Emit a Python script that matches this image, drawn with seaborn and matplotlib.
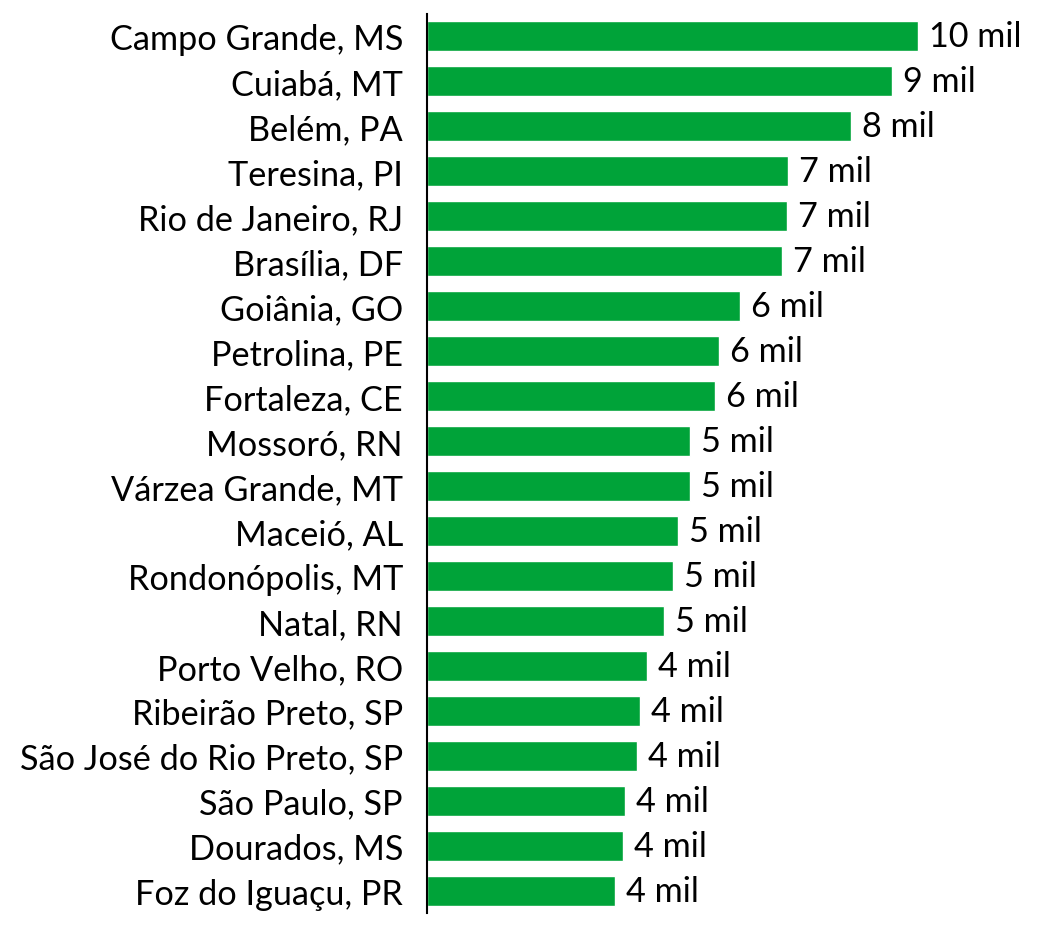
import matplotlib
matplotlib.use("Agg")
import matplotlib.pyplot as plt
import seaborn as sns
import pandas as pd

cities = ["Campo Grande, MS", "Cuiabá, MT", "Belém, PA", "Teresina, PI",
          "Rio de Janeiro, RJ", "Brasília, DF", "Goiânia, GO", "Petrolina, PE",
          "Fortaleza, CE", "Mossoró, RN", "Várzea Grande, MT", "Maceió, AL",
          "Rondonópolis, MT", "Natal, RN", "Porto Velho, RO", "Ribeirão Preto, SP",
          "São José do Rio Preto, SP", "São Paulo, SP", "Dourados, MS",
          "Foz do Iguaçu, PR"]
values = [9.63, 9.12, 8.31, 7.08, 7.06, 6.96, 6.14, 5.73, 5.65, 5.16,
          5.16, 4.92, 4.82, 4.65, 4.31, 4.18, 4.12, 3.88, 3.84, 3.69]
labels = [f"{round(v)} mil" for v in values]

df = pd.DataFrame({"city": cities, "value": values})

sns.set_theme(style="white")
plt.rcParams['font.family'] = ['Lato', 'DejaVu Sans']

W, H = 1047, 937
fig = plt.figure(figsize=(W / 100, H / 100), dpi=100)
left_px, right_px, top_px, bottom_px = 427, 1040, 15, 914
ax = fig.add_axes([left_px / W, (H - bottom_px) / H,
                   (right_px - left_px) / W, (bottom_px - top_px) / H])

sns.barplot(data=df, y="city", x="value", orient="h", color="#00A339",
            saturation=1, width=30 / 45, ax=ax)

ax.set_xlim(0, (right_px - left_px) / 51.0)
ax.set_ylim(len(cities) - 0.5, -0.5)

for i, (v, lab) in enumerate(zip(values, labels)):
    ax.annotate(lab, xy=(v, i), xytext=(11, 0), textcoords="offset pixels",
                va="center", ha="left", fontsize=24.7, color="black")

ax.set_xlabel("")
ax.set_ylabel("")
ax.set_xticks([])
ax.tick_params(axis="y", length=0, pad=17.3, labelsize=24.7, labelcolor="black")
for s in ["top", "right", "bottom"]:
    ax.spines[s].set_visible(False)
ax.spines["left"].set_color("black")
ax.spines["left"].set_linewidth(1.5)

fig.savefig("out.png", dpi=100)
